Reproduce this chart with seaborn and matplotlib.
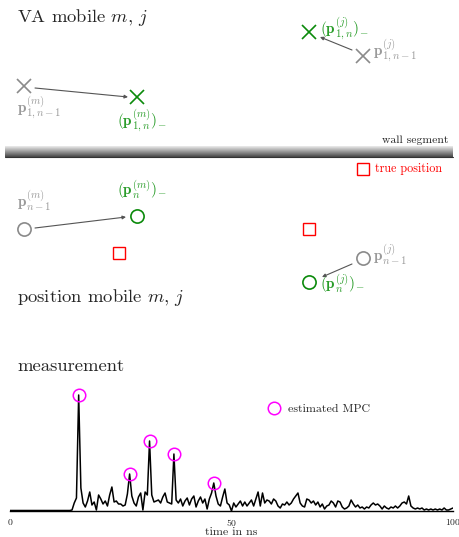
import numpy as np
import matplotlib
matplotlib.use("Agg")
import matplotlib.pyplot as plt
import seaborn as sns

# measured signal, sampled every 0.5 ns (arbitrary amplitude units)
t_ns = np.arange(0, 100.5, 0.5)
amplitude = [
    0.5, 0.5, 0.5, 0.5, 0.5, 0.5, 0.5, 0.5, 0.5, 0.5,   # 0 - 4.5
    0.5, 0.5, 0.5, 0.5, 0.5, 0.5, 0.5, 0.5, 0.5, 0.5,   # 5 - 9.5
    0.5, 0.5, 0.5, 0.5, 0.5, 0.5, 0.5, 0.5, 1, 8,       # 10 - 14.5
    13, 116, 23, 8, 4, 10, 19, 6, 9, 1,                 # 15 - 19.5
    16, 12, 7, 10, 5, 16, 24, 9, 10, 7,                 # 20 - 24.5
    7, 5, 6, 17, 37, 15, 8, 5, 14, 18,                  # 25 - 29.5
    1, 19, 16, 70, 16, 9, 10, 11, 8, 14,                # 30 - 34.5
    18, 9, 8, 7, 57, 11, 8, 12, 5, 10,                  # 35 - 39.5
    13, 6, 12, 15, 4, 10, 14, 8, 12, 2,                 # 40 - 44.5
    12, 18, 28, 15, 7, 5, 14, 22, 8, 6,                 # 45 - 49.5
    0, 8, 4, 7, 10, 5, 9, 5, 8, 11,                     # 50 - 54.5
    5, 12, 19, 5, 18, 8, 11, 10, 7, 12,                 # 55 - 59.5
    10, 5, 3, 7, 6, 9, 6, 8, 12, 15,                    # 60 - 64.5
    18, 8, 5, 4, 12, 11, 8, 10, 6, 9,                   # 65 - 69.5
    4, 7, 2, 5, 6, 10, 8, 4, 10, 9,                     # 70 - 74.5
    4, 2, 3, 5, 11, 7, 4, 6, 3, 4,                      # 75 - 79.5
    2, 4, 3, 6, 8, 6, 7, 5, 2, 5,                       # 80 - 84.5
    3, 2, 4, 3, 5, 3, 5, 8, 9, 7,                       # 85 - 89.5
    15, 5, 3, 2, 3, 2, 3, 1, 2, 1,                      # 90 - 94.5
    2, 1, 2, 1, 2, 1, 3, 1, 1, 2,                       # 95 - 99.5
    3,                                                  # 100
]
mpc_t = [15.5, 27.0, 31.5, 37.0, 46.0]
mpc_amp = [116, 37, 70, 57, 28]

# schematic positions (figure pixels, y from top)
va_prev_x, va_prev_y = [24, 363], [86, 56]
va_pred_x, va_pred_y = [137, 309], [97, 32]
pos_prev_x, pos_prev_y = [24, 363], [229, 258]
pos_pred_x, pos_pred_y = [137, 309], [216, 282]
true_x, true_y = [119, 309], [253, 229]

GRAY = "#8a8a8a"
GRAY_TXT = "#9a9a9a"
GREEN = "#0b8a0b"
GREEN_TXT = "#2a9d2a"

sns.set_theme(style="white")
plt.rcParams["font.family"] = ["cmr10", "DejaVu Serif"]
plt.rcParams["mathtext.fontset"] = "cm"
plt.rcParams["axes.formatter.use_mathtext"] = True

fig = plt.figure(figsize=(4.59, 5.37), dpi=100)

# --- schematic (pixel coordinates) ---
ax = fig.add_axes([0, 0, 1, 1])
ax.set_xlim(0, 459)
ax.set_ylim(537, 0)
ax.axis("off")

ax.text(17, 17, r"VA mobile $m$, $j$", fontsize=13.4, va="center", ha="left")
ax.text(17, 298, r"position mobile $m$, $j$", fontsize=13.4, va="center", ha="left")
ax.text(17, 366, "measurement", fontsize=13.4, va="center", ha="left")

# wall segment gradient
grad = np.linspace(0.92, 0.28, 40).reshape(-1, 1)
ax.imshow(grad, cmap="gray", vmin=0, vmax=1, aspect="auto",
          extent=(5, 453, 157, 146), zorder=1)
ax.plot([5, 453], [157, 157], color="#333333", lw=0.8)
ax.text(448, 140, "wall segment", fontsize=8.4, ha="right", va="center")

# true position legend
ax.plot([363], [169], ls="none", marker="s", ms=8.5, mfc="none", mec="red", mew=1)
ax.text(375, 169, "true position", fontsize=8.7, color="red", va="center")

mk = dict(ls="none", ms=9.5, mfc="none", mew=1.2)
ax.plot(va_prev_x, va_prev_y, marker="x", color=GRAY, **mk)
ax.plot(va_pred_x, va_pred_y, marker="x", color=GREEN, **mk)
ax.plot(pos_prev_x, pos_prev_y, marker="o", mec=GRAY, **mk)
ax.plot(pos_pred_x, pos_pred_y, marker="o", mec=GREEN, **mk)
ax.plot(true_x, true_y, marker="s", ls="none", ms=8.5, mfc="none", mec="red", mew=1)

arrow = dict(arrowstyle="-|>", color="#555555", lw=0.8, mutation_scale=5,
             shrinkA=0, shrinkB=0)
for (x0, y0), (x1, y1) in [((35, 88), (128, 97)), ((352, 50), (320, 37)),
                           ((35, 228), (126, 217)), ((352, 264), (322, 277))]:
    ax.annotate("", xy=(x1, y1), xytext=(x0, y0), arrowprops=arrow)

lab = dict(fontsize=11, va="center")
ax.text(17, 108, r"$\mathbf{p}_{1,n-1}^{(m)}$", color=GRAY_TXT, ha="left", **lab)
ax.text(142, 121, r"$(\mathbf{p}_{1,n}^{(m)})_{-}$", color=GREEN_TXT, ha="center", **lab)
ax.text(320, 29, r"$(\mathbf{p}_{1,n}^{(j)})_{-}$", color=GREEN_TXT, ha="left", **lab)
ax.text(373, 51, r"$\mathbf{p}_{1,n-1}^{(j)}$", color=GRAY_TXT, ha="left", **lab)
ax.text(17, 201, r"$\mathbf{p}_{n-1}^{(m)}$", color=GRAY_TXT, ha="left", **lab)
ax.text(142, 190, r"$(\mathbf{p}_{n}^{(m)})_{-}$", color=GREEN_TXT, ha="center", **lab)
ax.text(373, 255, r"$\mathbf{p}_{n-1}^{(j)}$", color=GRAY_TXT, ha="left", **lab)
ax.text(320, 284, r"$(\mathbf{p}_{n}^{(j)})_{-}$", color=GREEN_TXT, ha="left", **lab)

# --- measurement ---
axm = fig.add_axes([10 / 459, 26 / 537, 443 / 459, 127 / 537])
axm.patch.set_alpha(0)
sns.lineplot(x=t_ns, y=amplitude, ax=axm, color="black", lw=1.1)
axm.plot(mpc_t, mpc_amp, ls="none", marker="o", ms=9, mfc="none",
         mec="magenta", mew=1.1, label="estimated MPC")
axm.set_xlim(0, 100)
axm.set_ylim(0, 127)
axm.set_xticks([0, 50, 100])
axm.set_yticks([])
axm.tick_params(axis="x", labelsize=7, length=0, pad=4)
axm.set_xlabel("time in ns", fontsize=8.6, labelpad=0)
for s in ["top", "left", "right"]:
    axm.spines[s].set_visible(False)
axm.spines["bottom"].set_color("black")
axm.spines["bottom"].set_linewidth(1.0)
axm.legend(loc="upper left", bbox_to_anchor=(0.57, 0.885), frameon=False,
           fontsize=8.6, handletextpad=0.5, borderaxespad=0, handlelength=1.2)

fig.savefig("out.png", dpi=100)
